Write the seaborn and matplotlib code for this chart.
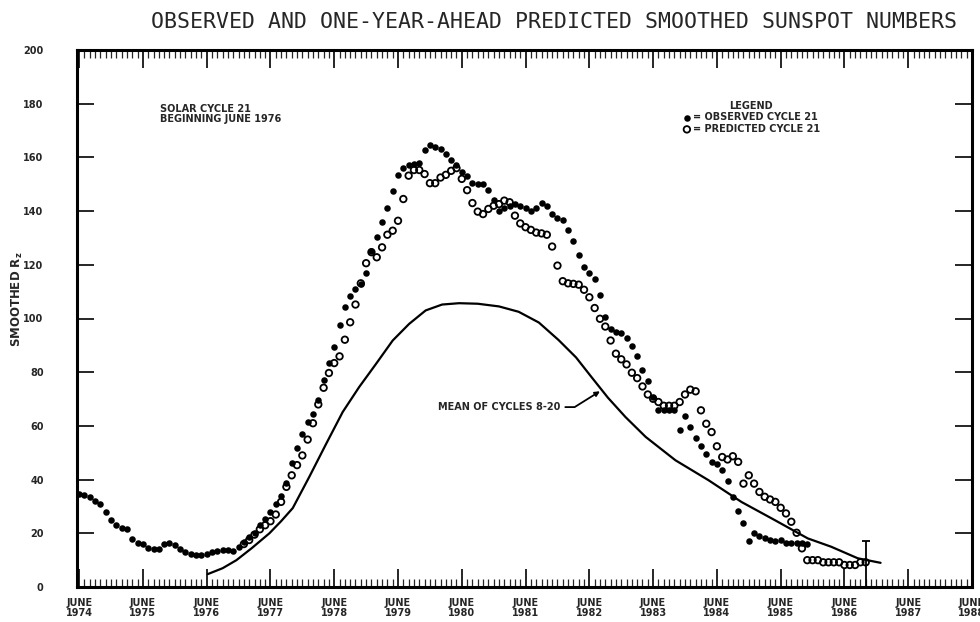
import numpy as np
import pandas as pd
import matplotlib
matplotlib.use("Agg")
import matplotlib.pyplot as plt
from matplotlib.ticker import MultipleLocator, FixedLocator
import seaborn as sns

# x axis is counted in months from June 1974
obs_month = list(range(0, 138))
obs_value = [
    34.8, 34.2, 33.5, 32.2, 31.0, 28.0, 25.0, 23.0, 22.0, 21.5,
    18.0, 16.3, 16.0, 14.5, 14.0, 14.2, 16.0, 16.3, 15.6, 14.0,
    13.0, 12.2, 12.0, 12.0, 12.2, 13.0, 13.5, 13.8, 13.6, 13.4,
    15.0, 16.8, 18.5, 20.0, 23.0, 25.5, 28.0, 31.0, 34.0, 38.6,
    46.0, 51.6, 57.0, 61.3, 64.6, 69.5, 77.0, 83.4, 89.3, 97.4,
    104.2, 108.5, 111.0, 113.0, 116.8, 125.0, 130.5, 136.0, 141.0, 147.3,
    153.5, 156.2, 157.0, 157.6, 157.8, 162.7, 164.7, 164.0, 163.0, 161.4,
    159.0, 157.0, 154.4, 153.0, 150.3, 150.0, 150.0, 147.8, 144.0, 140.0,
    141.0, 142.0, 142.5, 142.0, 141.0, 140.0, 141.0, 143.0, 142.0, 139.0,
    137.4, 136.7, 133.0, 129.0, 123.8, 119.0, 117.0, 114.8, 108.8, 100.7,
    96.0, 94.9, 94.6, 92.8, 89.7, 85.9, 80.7, 76.7, 70.7, 65.8,
    65.8, 65.8, 65.8, 58.6, 63.6, 59.6, 55.5, 52.5, 49.4, 46.6,
    45.7, 43.5, 39.5, 33.6, 28.3, 24.0, 17.1, 20.2, 19.0, 18.1,
    17.5, 17.2, 17.5, 16.5, 16.5, 16.5, 16.5, 16.2,
]

pred_month = list(range(31, 149))
pred_value = [
    16.0, 17.5, 19.5, 21.5, 23.0, 24.5, 27.0,
    31.7, 37.3, 41.6, 45.4, 49.0, 54.9, 61.0, 68.0, 74.2, 79.7,
    83.4, 85.9, 92.1, 98.6, 105.2, 113.1, 120.6, 124.7, 122.8, 126.5,
    131.2, 132.7, 136.4, 144.5, 153.2, 155.3, 155.3, 153.8, 150.4, 150.4,
    152.5, 153.5, 155.0, 156.0, 152.0, 147.8, 143.0, 139.8, 138.9, 140.8,
    142.0, 142.6, 143.9, 143.3, 138.3, 135.4, 134.0, 133.0, 132.0, 131.7,
    131.2, 126.8, 119.7, 113.9, 113.1, 112.9, 112.6, 110.7, 107.9, 103.9,
    99.9, 97.0, 91.8, 86.9, 84.8, 82.9, 79.8, 77.8, 74.7, 71.7,
    70.1, 68.9, 67.5, 67.5, 67.5, 68.9, 71.7, 73.5, 72.9, 65.8,
    60.8, 57.7, 52.4, 48.4, 47.5, 48.7, 46.6, 38.5, 41.6, 38.5,
    35.4, 33.6, 32.6, 31.7, 29.5, 27.4, 24.3, 20.2, 14.4, 10.0,
    10.0, 10.0, 9.2, 9.2, 9.2, 9.2, 8.2, 8.2, 8.2, 9.2, 9.2,
]

mean_month = [24.2, 27.0, 29.6, 32.5, 35.8, 38.0, 40.2, 43.3, 46.5, 49.6,
              52.7, 55.9, 59.0, 62.1, 65.2, 68.3, 71.5, 75.0, 79.0, 82.7,
              86.5, 90.2, 93.5, 96.4, 99.5, 102.8, 106.6, 112.2, 118.4, 124.6,
              130.9, 137.1, 141.5, 146.5, 150.8]
mean_value = [4.8, 7.0, 10.0, 14.5, 20.0, 24.5, 29.4, 41.0, 53.4, 65.2,
              74.5, 83.2, 91.8, 98.0, 103.0, 105.2, 105.7, 105.5, 104.5, 102.5,
              98.5, 92.0, 85.5, 78.2, 70.5, 63.3, 55.9, 47.2, 39.8, 31.7,
              24.9, 18.1, 15.0, 10.7, 9.0]

# uncertainty bar on the last prediction
err_month = [148]
err_value = [9.2]
err_low = [9.2]
err_high = [8.0]

tick_years = list(range(1974, 1989))
tick_labels = [f"JUNE\n{y}" for y in tick_years]

sns.set_theme(style="white")
plt.rcParams["font.family"] = ["DejaVu Sans"]

fig = plt.figure(figsize=(9.8, 6.22), dpi=100)
ax = fig.add_axes([77 / 980, 35 / 622, 895 / 980, 537 / 622])

sns.lineplot(x=mean_month, y=mean_value, color="black", linewidth=1.6, ax=ax)
sns.scatterplot(x=obs_month, y=obs_value, color="black", s=22, linewidth=0,
                marker="o", ax=ax, label="= OBSERVED CYCLE 21")
sns.scatterplot(x=pred_month, y=pred_value, color="black", facecolors="none",
                edgecolor="black", s=22, linewidth=1.3, marker="o", ax=ax,
                label="= PREDICTED CYCLE 21")
ax.errorbar(err_month, err_value, yerr=[err_low, err_high], fmt="none",
            ecolor="black", elinewidth=1.3, capsize=3, capthick=1.3)

ax.set_xlim(-0.4, 168)
ax.set_ylim(0, 200)

ax.xaxis.set_major_locator(FixedLocator([12 * i for i in range(len(tick_years))]))
ax.set_xticklabels(tick_labels)
ax.xaxis.set_minor_locator(MultipleLocator(1))
ax.yaxis.set_major_locator(MultipleLocator(20))

ax.tick_params(axis="x", which="major", direction="in", length=13, width=1.4,
               top=True, bottom=True, pad=8, labelsize=7)
ax.tick_params(axis="x", which="minor", direction="in", length=6, width=0.9,
               top=True, bottom=True)
ax.tick_params(axis="y", which="major", direction="in", length=12, width=1.4,
               left=True, right=True, pad=24, labelsize=7)
for lab in ax.get_xticklabels() + ax.get_yticklabels():
    lab.set_fontweight("bold")
for lab in ax.get_xticklabels():
    lab.set_linespacing(0.95)

for sp in ax.spines.values():
    sp.set_linewidth(2.2)
    sp.set_color("black")

ax.set_xlabel("")
ax.set_ylabel(r"SMOOTHED $\mathbf{R_z}$", fontsize=8.5, fontweight="bold")
ax.yaxis.set_label_coords(-0.058, 0.535)

ax.text(0.093, 0.9, "SOLAR CYCLE 21\nBEGINNING JUNE 1976", transform=ax.transAxes,
        ha="left", va="top", fontsize=7, fontweight="bold", linespacing=1.0)

ax.annotate("MEAN OF CYCLES 8-20", xy=(98, 72.9), xytext=(90.6, 67),
            ha="right", va="center", fontsize=7, fontweight="bold",
            arrowprops=dict(arrowstyle="-|>", color="black", lw=1.3,
                            mutation_scale=7, shrinkA=1, shrinkB=0,
                            connectionstyle="angle,angleA=0,angleB=32,rad=0"))

leg = ax.legend(title="LEGEND", loc="upper left", bbox_to_anchor=(0.676, 0.905),
                frameon=False, handletextpad=0.1, handlelength=1.0,
                borderaxespad=0, borderpad=0, labelspacing=0.15,
                prop={"weight": "bold", "size": 7},
                title_fontproperties={"weight": "bold", "size": 7})

fig.text(0.565, 0.965, "OBSERVED AND ONE-YEAR-AHEAD PREDICTED SMOOTHED SUNSPOT NUMBERS",
         ha="center", va="center", family="DejaVu Sans Mono", fontsize=15.5)

fig.savefig("out.png", dpi=100, facecolor="white")
